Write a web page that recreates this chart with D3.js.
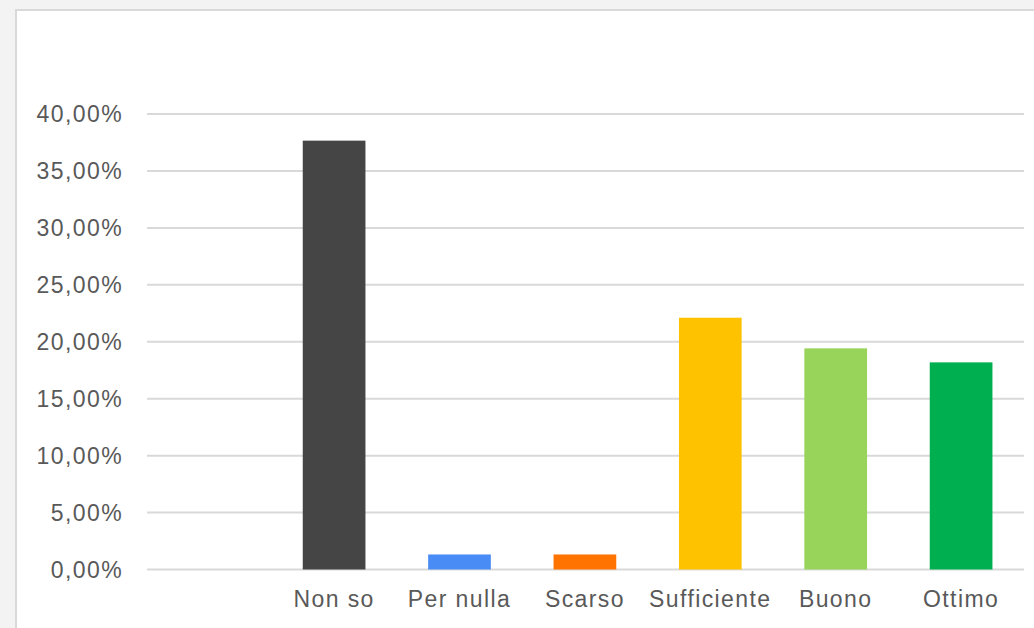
<!DOCTYPE html>
<html>
<head>
<meta charset="utf-8">
<script src="https://cdn.jsdelivr.net/npm/d3@7"></script>
<style>
  html, body { margin: 0; padding: 0; background: #f3f3f3; }
  svg { display: block; }
</style>
</head>
<body>
<svg id="chart" width="1034" height="628"></svg>
<script>
const categories = ["", "Non so", "Per nulla", "Scarso", "Sufficiente", "Buono", "Ottimo"];
const values = [null, 37.66, 1.32, 1.32, 22.11, 19.42, 18.19];
const colors = [null, "#454545", "#4a8cf5", "#ff7300", "#ffc200", "#98d45a", "#00b050"];
const yTicks = [0, 5, 10, 15, 20, 25, 30, 35, 40];

const svg = d3.select("#chart");
const W = 1034, H = 628;

// panel
svg.append("rect").attr("x", 0).attr("y", 0).attr("width", W).attr("height", H).attr("fill", "#f3f3f3");
svg.append("rect").attr("x", 16).attr("y", 10).attr("width", W - 16 + 2).attr("height", H - 10 + 2)
  .attr("fill", "#ffffff").attr("stroke", "#d9d9d9").attr("stroke-width", 2);

const x = d3.scaleBand().domain(categories.map((c, i) => i)).range([146, 1023.8]).paddingInner(0.5).paddingOuter(0.25);
const y = d3.scaleLinear().domain([0, 40]).range([569.5, 114]);

// gridlines
svg.append("g").selectAll("line").data(yTicks).join("line")
  .attr("x1", 147).attr("x2", 1024)
  .attr("y1", d => y(d)).attr("y2", d => y(d))
  .attr("stroke", "#d9d9d9").attr("stroke-width", 2);

// y labels
const fmt = d => d.toFixed(2).replace(".", ",") + "%";
svg.append("g").selectAll("text").data(yTicks).join("text")
  .attr("x", 123).attr("y", d => y(d)).attr("dy", "0.35em")
  .attr("text-anchor", "end")
  .attr("font-family", "Liberation Sans, Arial, sans-serif").attr("font-size", 23)
  .attr("letter-spacing", "1.4px")
  .attr("fill", "#595959")
  .text(fmt);

// x labels
svg.append("g").selectAll("text").data(categories.map((c, i) => ({c, i}))).join("text")
  .attr("x", d => x(d.i) + x.bandwidth() / 2).attr("y", 607)
  .attr("text-anchor", "middle")
  .attr("font-family", "Liberation Sans, Arial, sans-serif").attr("font-size", 23)
  .attr("letter-spacing", "1.4px")
  .attr("fill", "#595959")
  .text(d => d.c);

// bars
const data = categories.map((c, i) => ({i, c, v: values[i], col: colors[i]})).filter(d => d.v != null);
svg.append("g").selectAll("rect").data(data).join("rect")
  .attr("x", d => x(d.i)).attr("width", x.bandwidth())
  .attr("y", d => y(d.v)).attr("height", d => y(0) - y(d.v))
  .attr("fill", d => d.col);
</script>
</body>
</html>
